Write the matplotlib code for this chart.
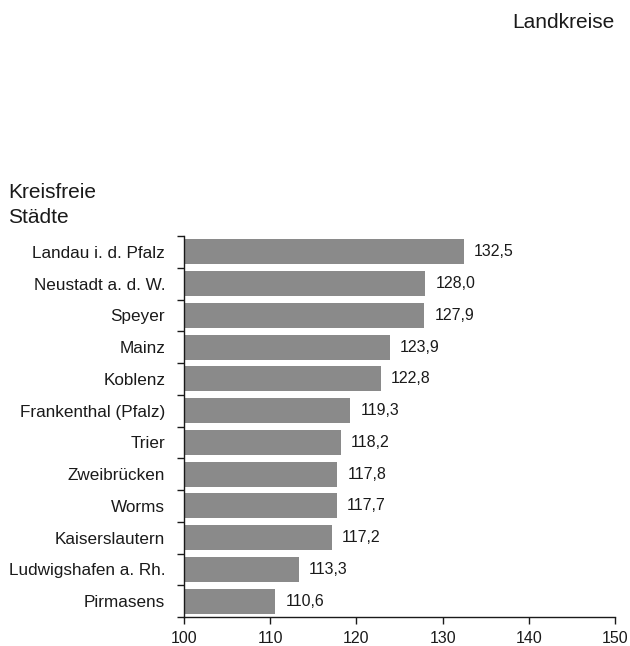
import matplotlib
matplotlib.use("Agg")
import matplotlib.pyplot as plt
import numpy as np

plt.rcParams['font.family'] = ['Liberation Sans', 'DejaVu Sans']

categories = ["Landau i. d. Pfalz", "Neustadt a. d. W.", "Speyer", "Mainz", "Koblenz",
              "Frankenthal (Pfalz)", "Trier", "Zweibrücken", "Worms", "Kaiserslautern",
              "Ludwigshafen a. Rh.", "Pirmasens"]
values = [132.5, 128.0, 127.9, 123.9, 122.8, 119.3, 118.2, 117.8, 117.7, 117.2, 113.3, 110.6]
xticks = [100, 110, 120, 130, 140, 150]

text_color = "#1a1a1a"
bar_color = "#8a8a8a"

fig = plt.figure(figsize=(6.3, 6.46), dpi=100)
ax = fig.add_axes([184/630, 29/646, (615-184)/630, (617-236)/646])

n = len(categories)
y = np.arange(n)
ax.barh(y, [v - 100 for v in values], left=100, height=0.78, color=bar_color)
ax.set_ylim(n - 0.5, -0.5)
ax.set_xlim(100, 150)

for yi, v in zip(y, values):
    ax.text(v + 1.15, yi, f"{v:.1f}".replace(".", ","), va="center", ha="left",
            fontsize=11.5, color=text_color)

ax.set_yticks(y)
ax.set_yticklabels(categories, fontsize=12.3, color=text_color)
ax.set_yticks(np.arange(n + 1) - 0.5, minor=True)
ax.tick_params(axis="y", which="major", length=0, pad=13.5)
ax.tick_params(axis="y", which="minor", length=5, width=1, color=text_color)
ax.set_xticks(xticks)
ax.set_xticklabels([str(t) for t in xticks], fontsize=11.5, color=text_color)
ax.tick_params(axis="x", length=5, width=1, color=text_color, pad=5)

for s in ["top", "right"]:
    ax.spines[s].set_visible(False)
for s in ["left", "bottom"]:
    ax.spines[s].set_color(text_color)
    ax.spines[s].set_linewidth(1)

fig.text(8/630, 1 - 205/646, "Kreisfreie\nStädte", fontsize=15, color=text_color,
         ha="left", va="center", linespacing=1.4)
fig.text(614/630, 1 - 22/646, "Landkreise", fontsize=15, color=text_color,
         ha="right", va="center")

fig.savefig("out.png", dpi=100, facecolor="white")
